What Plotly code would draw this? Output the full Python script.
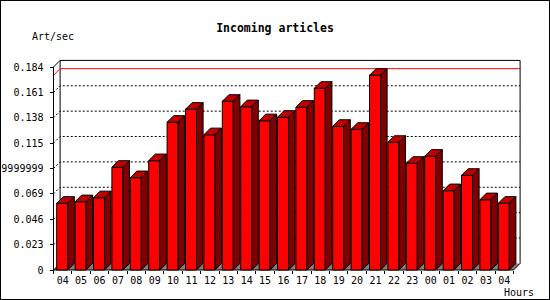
import plotly.graph_objects as go

hours = ["04", "05", "06", "07", "08", "09", "10", "11", "12", "13", "14", "15", "16",
         "17", "18", "19", "20", "21", "22", "23", "00", "01", "02", "03", "04"]
values = [0.0605, 0.0619, 0.0655, 0.0931, 0.0837, 0.0991, 0.1339, 0.1457, 0.1226,
          0.1529, 0.1480, 0.1353, 0.1384, 0.1475, 0.1647, 0.1302, 0.1275, 0.1765,
          0.1157, 0.0967, 0.1031, 0.0719, 0.0858, 0.0637, 0.0605]
ytick_vals = [0, 0.023, 0.046, 0.069, 0.092, 0.115, 0.138, 0.161, 0.184]
ytick_text = ["0", "0.023", "0.046", "0.069", "0.0919999999999999", "0.115", "0.138", "0.161", "0.184"]

W, H = 550, 300
SLOT_PX = 18.4
X_LEFT_PX = 53.5
ZERO_PX = 270.0
PX_PER_UNIT = 203.0 / 0.184
DEPTH_PX = 6.6

xr0 = -0.5 - X_LEFT_PX / SLOT_PX
xr1 = xr0 + W / SLOT_PX
yr1 = ZERO_PX / PX_PER_UNIT
yr0 = -(H - ZERO_PX) / PX_PER_UNIT
dx = DEPTH_PX / SLOT_PX
dy = DEPTH_PX / PX_PER_UNIT

n = len(values)
xl, xr = -0.5, n - 0.5
ytop = ytick_vals[-1]
vmax = max(values)
face_l = 3.2 / SLOT_PX
face_w = 11.0 / SLOT_PX

fig = go.Figure()

# floor
fig.add_trace(go.Scatter(x=[xl, xr, xr + dx, xl + dx, xl], y=[0, 0, dy, dy, 0], mode="lines",
                         fill="toself", fillcolor="#808080", line=dict(width=0),
                         hoverinfo="skip"))

# grid lines on back plane + diagonals
gx, gy = [], []
for v in ytick_vals[1:-1]:
    gx += [xl, xl + dx, xr + dx, None]
    gy += [v, v + dy, v + dy, None]
fig.add_trace(go.Scatter(x=gx, y=gy, mode="lines",
                         line=dict(color="black", width=1, dash="2px,2px"), hoverinfo="skip"))

# back frame
fig.add_trace(go.Scatter(
    x=[xl + dx, xl + dx, xr + dx, xr + dx, None, xl, xl + dx, None, xl, xl + dx, None, xr, xr + dx],
    y=[dy, ytop + dy, ytop + dy, dy, None, ytop, ytop + dy, None, 0, dy, None, 0, dy],
    mode="lines", line=dict(color="black", width=1), hoverinfo="skip"))

# max line
fig.add_trace(go.Scatter(x=[xl, xl + dx, xr + dx], y=[vmax, vmax + dy, vmax + dy], mode="lines",
                         line=dict(color="red", width=1), hoverinfo="skip"))

# front axis lines
fig.add_trace(go.Scatter(x=[xl, xl, None, xl, xr], y=[ytop, 0, None, 0, 0], mode="lines",
                         line=dict(color="black", width=1), hoverinfo="skip"))

# bars
fx, fy, tx, ty, sx, sy = [], [], [], [], [], []
for i, v in enumerate(values):
    a = i - 0.5 + face_l
    b = a + face_w
    fx += [a, b, b, a, a, None]
    fy += [0, 0, v, v, 0, None]
    tx += [a, b, b + dx, a + dx, a, None]
    ty += [v, v, v + dy, v + dy, v, None]
    sx += [b, b + dx, b + dx, b, b, None]
    sy += [0, dy, v + dy, v, 0, None]
for xs, ys, col in [(fx, fy, "#FF0000"), (tx, ty, "#C00000"), (sx, sy, "#800000")]:
    fig.add_trace(go.Scatter(x=xs, y=ys, mode="lines", fill="toself", fillcolor=col,
                             line=dict(color="black", width=1), hoverinfo="skip"))

font = dict(family="DejaVu Sans Mono", size=10, color="black")

fig.update_layout(
    width=W, height=H, margin=dict(l=0, r=0, t=0, b=0, autoexpand=False),
    paper_bgcolor="white", plot_bgcolor="white", showlegend=False,
    title=dict(text="<b>Incoming articles</b>", x=0.5, xanchor="center",
               y=1 - 27.5 / H, yanchor="middle",
               font=dict(family="DejaVu Sans Mono", size=11.5, color="black")),
    xaxis=dict(range=[xr0, xr1], domain=[0, 1], anchor="free", position=(H - ZERO_PX) / H,
               automargin=False,
               showgrid=False, zeroline=False, showline=False,
               tickmode="array", tickvals=list(range(n)), ticktext=hours, ticks="",
               tickfont=font, ticklabelstandoff=3,
               minor=dict(tickmode="array", tickvals=[i - 0.5 for i in range(n + 1)],
                          ticks="outside", ticklen=3, tickcolor="black", tickwidth=1,
                          showgrid=False)),
    yaxis=dict(range=[yr0, yr1], domain=[0, 1], anchor="free", position=X_LEFT_PX / W,
               automargin=False,
               showgrid=False, zeroline=False, showline=False,
               tickmode="array", tickvals=ytick_vals, ticktext=ytick_text,
               ticks="outside", ticklen=4, tickcolor="black", tickwidth=1,
               tickfont=font, ticklabelstandoff=4),
    annotations=[
        dict(text="Art/sec", xref="paper", yref="paper", x=30 / W, y=1 - 36.5 / H,
             xanchor="left", yanchor="middle", showarrow=False, font=font),
        dict(text="Hours", xref="paper", yref="paper", x=519 / W, y=1 - 292 / H,
             xanchor="center", yanchor="middle", showarrow=False, font=font),
    ],
    shapes=[dict(type="rect", xref="paper", yref="paper", x0=0, y0=0, x1=1, y1=1,
                 line=dict(color="black", width=2))],
)

fig.write_html("out.html")
